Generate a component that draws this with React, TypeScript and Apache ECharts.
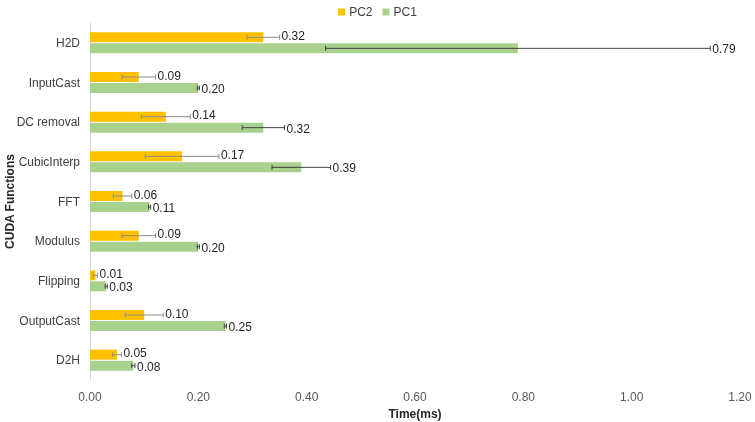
import React, { useEffect, useRef } from "react";
import * as echarts from "echarts";

const categories = ["H2D", "InputCast", "DC removal", "CubicInterp", "FFT", "Modulus", "Flipping", "OutputCast", "D2H"];
const pc2Values = [0.32, 0.09, 0.14, 0.17, 0.06, 0.09, 0.01, 0.10, 0.05];
const pc2Errors = [0.03, 0.031, 0.045, 0.068, 0.017, 0.031, 0.004, 0.035, 0.008];
const pc1Values = [0.79, 0.20, 0.32, 0.39, 0.11, 0.20, 0.03, 0.25, 0.08];
const pc1Errors = [0.355, 0.002, 0.039, 0.054, 0.002, 0.002, 0.002, 0.002, 0.003];
const xTicks = { min: 0, max: 1.2, interval: 0.2 };

const FONT = "'Liberation Sans', Arial, sans-serif";

function errSeries(name: string, values: number[], errors: number[], offset: number, labelShift: number, color: string) {
  return {
    type: "custom",
    name,
    z: 5,
    clip: false,
    encode: { x: 0, y: 1 },
    data: values.map((v, i) => [v, i, errors[i]]),
    renderItem: (params: any, api: any) => {
      const v = api.value(0);
      const idx = api.value(1);
      const e = api.value(2);
      const c = api.coord([v, idx]);
      const lo = api.coord([v - e, idx]);
      const hi = api.coord([v + e, idx]);
      const y = c[1] + offset;
      const cap = 2.5;
      return {
        type: "group",
        children: [
          { type: "line", shape: { x1: lo[0], y1: y, x2: hi[0], y2: y }, style: { stroke: color, lineWidth: 1 } },
          { type: "line", shape: { x1: lo[0], y1: y - cap, x2: lo[0], y2: y + cap }, style: { stroke: color, lineWidth: 1 } },
          { type: "line", shape: { x1: hi[0], y1: y - cap, x2: hi[0], y2: y + cap }, style: { stroke: color, lineWidth: 1 } },
          {
            type: "text",
            x: hi[0] + 2,
            y: y + labelShift,
            style: {
              text: v.toFixed(2),
              fill: "#262626",
              fontSize: 12,
              fontFamily: FONT,
              verticalAlign: "middle",
              align: "left",
            },
          },
        ],
      };
    },
  };
}

export default function App() {
  const ref = useRef<HTMLDivElement>(null);
  useEffect(() => {
    if (!ref.current) return;
    const chart = echarts.init(ref.current, undefined, { renderer: "svg" });
    chart.setOption({
      animation: false,
      textStyle: { fontFamily: FONT },
      legend: {
        data: ["PC2", "PC1"],
        top: 1,
        left: "center",
        icon: "rect",
        itemWidth: 7,
        itemHeight: 7,
        itemGap: 10,
        textStyle: { fontSize: 12, color: "#404040", fontFamily: FONT, padding: [0, 0, 0, -1] },
      },
      grid: { left: 90, right: 15, top: 23, bottom: 42, containLabel: false, outerBoundsMode: "none" },
      xAxis: {
        type: "value",
        min: xTicks.min,
        max: xTicks.max,
        interval: xTicks.interval,
        axisLine: { show: false },
        axisTick: { show: false },
        splitLine: { show: false },
        axisLabel: {
          formatter: (v: number) => v.toFixed(2),
          fontSize: 12,
          color: "#595959",
          margin: 11,
          fontFamily: FONT,
        },
        name: "Time(ms)",
        nameLocation: "middle",
        nameGap: 28,
        nameMoveOverlap: false,
        nameTextStyle: { fontSize: 12, fontWeight: "bold", color: "#262626", fontFamily: FONT },
      },
      yAxis: {
        type: "category",
        data: categories,
        inverse: true,
        axisLine: { show: true, lineStyle: { color: "#d9d9d9" } },
        axisTick: { show: false },
        axisLabel: { fontSize: 12, color: "#404040", margin: 10, fontFamily: FONT },
        name: "CUDA Functions",
        nameLocation: "middle",
        nameRotate: 90,
        nameGap: 74,
        nameMoveOverlap: false,
        nameTextStyle: { fontSize: 12, fontWeight: "bold", color: "#262626", fontFamily: FONT },
      },
      series: [
        {
          type: "bar",
          name: "PC2",
          data: pc2Values,
          barWidth: 10,
          barGap: "10%",
          itemStyle: { color: "#FFC000" },
        },
        {
          type: "bar",
          name: "PC1",
          data: pc1Values,
          barWidth: 10,
          barGap: "10%",
          itemStyle: { color: "#A9D18E" },
        },
        errSeries("errPC2", pc2Values, pc2Errors, -5.5, -1.5, "#8c8c8c"),
        errSeries("errPC1", pc1Values, pc1Errors, 5.5, 1, "#404040"),
      ],
    });
    return () => chart.dispose();
  }, []);
  return <div ref={ref} style={{ position: "fixed", left: 0, top: 0, width: 755, height: 422 }} />;
}
